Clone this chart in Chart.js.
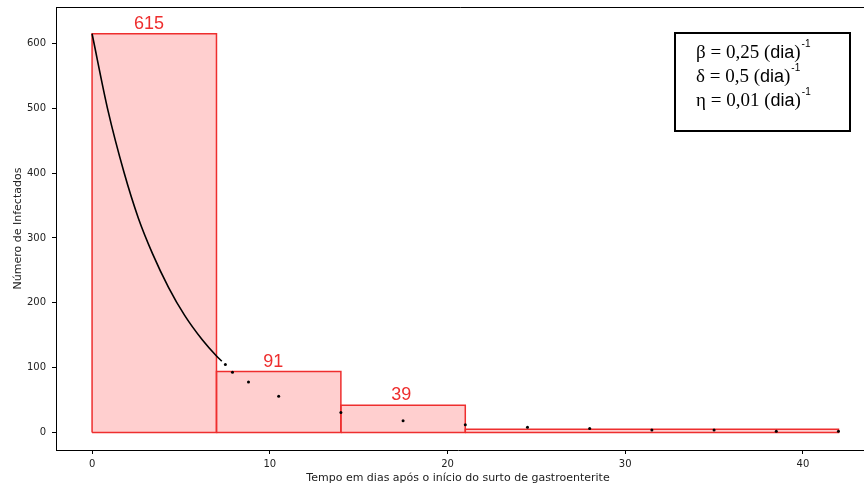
<!DOCTYPE html>
<html>
<head>
<meta charset="utf-8">
<script src="https://cdn.jsdelivr.net/npm/chart.js@4.4.1/dist/chart.umd.min.js"></script>
<style>
  html, body { margin: 0; padding: 0; background: #fff; overflow: hidden; }
  canvas { display: block; }
</style>
</head>
<body>
<canvas id="chart" width="864" height="488"></canvas>
<script>
// histogram bins (days) and heights
const binEdges = [0, 7, 14, 21, 42];
const barHeights = [615, 94, 42, 5];
// labels over the first three bars
const barLabels = ['615', '91', '39'];
const labelX = [3.2, 10.2, 17.4];

// model curve
const curveX = [0, 0.9, 1.8, 2.6, 3.4, 4.3, 5.2, 6.2, 7.0, 7.3];
const curveY = [615, 496, 401, 331, 276, 224, 181, 143, 118, 110];

// scattered points
const dotX = [7.5, 7.9, 8.8, 10.5, 14.0, 17.5, 21.0, 24.5, 28.0, 31.5, 35.0, 38.5, 42.0];
const dotY = [105, 93, 78, 56, 31, 18, 12, 8, 6, 4, 4, 2, 2];

const xTicks = [0, 10, 20, 30, 40];
const yTicks = [0, 100, 200, 300, 400, 500, 600];

const params = [
  ['β = 0,25 (', ')'],
  ['δ = 0,5 (', ')'],
  ['η = 0,01 (', ')']
];

const RED = '#ee2e2e';
const tickFont = { family: 'DejaVu Sans', size: 10 };
const titleFont = { family: 'DejaVu Sans', size: 11 };

// fill under the step function
const stepData = binEdges.map((x, i) => ({ x: x, y: barHeights[Math.min(i, barHeights.length - 1)] }));

// one outline per bar
const outlineSets = barHeights.map((h, i) => {
  const x0 = binEdges[i], x1 = binEdges[i + 1];
  return {
    data: [{ x: x0, y: 0 }, { x: x0, y: h }, { x: x1, y: h }, { x: x1, y: 0 }, { x: x0, y: 0 }],
    showLine: true,
    borderColor: RED,
    borderWidth: 1.5,
    pointRadius: 0,
    fill: false,
    order: 2
  };
});

const overlay = {
  id: 'overlay',
  afterDatasetsDraw(chart) {
    const { ctx, scales: { x, y }, chartArea: a } = chart;
    ctx.save();
    // bar value labels
    ctx.fillStyle = RED;
    ctx.font = '18px "Liberation Sans", Arial, sans-serif';
    ctx.textAlign = 'center';
    ctx.textBaseline = 'alphabetic';
    barLabels.forEach((t, i) => {
      ctx.fillText(t, x.getPixelForValue(labelX[i]), y.getPixelForValue(barHeights[i]) - 5);
    });

    // frame (top, left) and bottom spine running off the right edge
    ctx.strokeStyle = '#000';
    ctx.lineWidth = 1;
    ctx.beginPath();
    ctx.moveTo(a.left + 0.5, a.bottom);
    ctx.lineTo(a.left + 0.5, a.top + 0.5);
    ctx.lineTo(chart.width, a.top + 0.5);
    ctx.moveTo(a.right - 1, a.bottom + 0.5);
    ctx.lineTo(chart.width, a.bottom + 0.5);
    ctx.stroke();

    // parameter box
    const bx = 675, by = 33, bw = 175, bh = 98;
    ctx.fillStyle = '#fff';
    ctx.fillRect(bx, by, bw, bh);
    ctx.lineWidth = 2;
    ctx.strokeRect(bx, by, bw, bh);
    ctx.fillStyle = '#000';
    ctx.textAlign = 'left';
    params.forEach((p, i) => {
      let px = 696;
      const py = 58 + i * 24;
      ctx.font = '19px "Liberation Serif", "Times New Roman", serif';
      ctx.fillText(p[0], px, py);
      px += ctx.measureText(p[0]).width;
      ctx.font = '18px "Liberation Sans", Arial, sans-serif';
      ctx.fillText('dia', px, py);
      px += ctx.measureText('dia').width;
      ctx.font = '19px "Liberation Serif", "Times New Roman", serif';
      ctx.fillText(p[1], px, py);
      px += ctx.measureText(p[1]).width + 1;
      ctx.font = '10px "Liberation Sans", Arial, sans-serif';
      ctx.fillText('-1', px, py - 11);
    });
    ctx.restore();
  }
};

new Chart(document.getElementById('chart'), {
  type: 'scatter',
  data: {
    datasets: [
      {
        data: stepData,
        showLine: true,
        stepped: 'before',
        borderWidth: 0,
        borderColor: 'rgba(0,0,0,0)',
        backgroundColor: '#ffcfcf',
        pointRadius: 0,
        fill: 'origin',
        order: 3
      },
      ...outlineSets,
      {
        data: curveX.map((x, i) => ({ x: x, y: curveY[i] })),
        showLine: true,
        borderColor: '#000',
        borderWidth: 1.6,
        pointRadius: 0,
        cubicInterpolationMode: 'monotone',
        fill: false,
        order: 1
      },
      {
        data: dotX.map((x, i) => ({ x: x, y: dotY[i] })),
        pointRadius: 1.5,
        pointBackgroundColor: '#000',
        pointBorderWidth: 0,
        order: 0
      }
    ]
  },
  options: {
    responsive: false,
    animation: false,
    devicePixelRatio: 1,
    layout: { padding: { top: 7, left: 0, right: 0, bottom: 0 } },
    plugins: {
      legend: { display: false },
      tooltip: { enabled: false }
    },
    scales: {
      x: {
        type: 'linear',
        min: -2.03,
        max: 43.21,
        afterFit: s => { s.height = 38; },
        afterBuildTicks: s => { s.ticks = xTicks.map(v => ({ value: v })); },
        grid: { drawOnChartArea: false, tickLength: 4, color: '#000', tickColor: '#000' },
        border: { color: '#000', width: 1 },
        ticks: { color: '#222', font: tickFont, padding: 4, maxRotation: 0 },
        title: {
          display: true,
          text: 'Tempo em dias após o início do surto de gastroenterite',
          color: '#222',
          font: titleFont,
          padding: { top: 0, bottom: 3 }
        }
      },
      y: {
        type: 'linear',
        min: -27,
        max: 656.3,
        afterFit: s => { s.width = 56; s.paddingTop = 0; s.paddingBottom = 0; },
        afterBuildTicks: s => { s.ticks = yTicks.map(v => ({ value: v })); },
        grid: { drawOnChartArea: false, tickLength: 4, color: '#000', tickColor: '#000' },
        border: { color: '#000', width: 1 },
        ticks: { color: '#222', font: tickFont, padding: 6 },
        title: {
          display: true,
          text: 'Número de Infectados',
          color: '#222',
          font: titleFont,
          padding: { top: 12, bottom: 6 }
        }
      }
    }
  },
  plugins: [overlay]
});
</script>
</body>
</html>
